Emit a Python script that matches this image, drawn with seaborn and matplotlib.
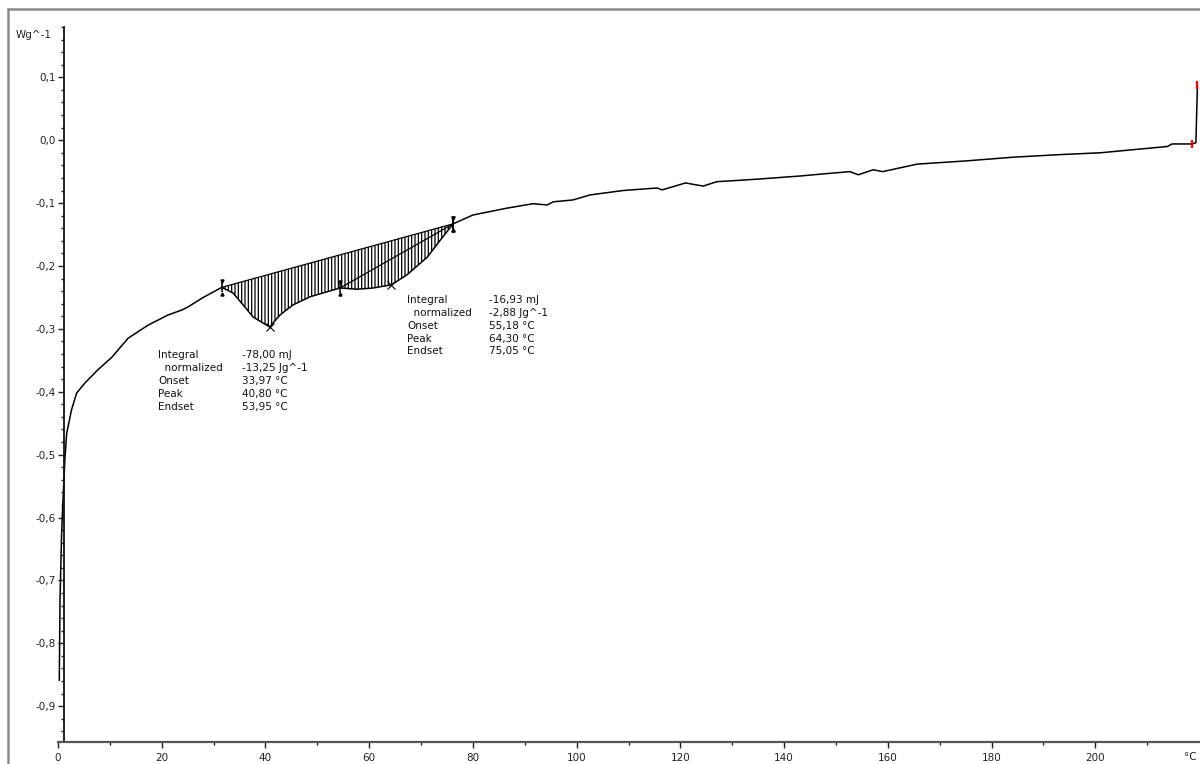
import numpy as np
import matplotlib
matplotlib.use("Agg")
import matplotlib.pyplot as plt
from matplotlib.lines import Line2D
from matplotlib.ticker import FixedLocator, FuncFormatter
import seaborn as sns

# DSC heat-flow trace (temperature in °C, heat flow in W/g)
temperature = [0.25, 0.39, 0.7, 0.96, 1.35, 1.68, 2.6, 3.6, 5.2, 7.7, 10.4, 13.5,
               17.4, 21.2, 23.9, 25.1, 27.8, 31.57, 33.75, 35.7, 37.6, 40.8, 42.8,
               45.3, 48.6, 51.9, 54.4, 57.7, 60.8, 64.3, 67.3, 71.2, 73.7, 76.2,
               80.0, 86.6, 91.6, 94.3, 95.5, 99.3, 102.6, 109.0, 115.5, 116.5,
               121.0, 124.4, 127.0, 134.8, 143.0, 147.0, 152.7, 154.3, 157.2,
               159.0, 165.7, 175.0, 184.2, 193.0, 201.0, 213.9, 214.8, 218.7,
               219.4, 219.7]
heat_flow = [-0.859, -0.73, -0.625, -0.572, -0.504, -0.466, -0.429, -0.402, -0.386,
             -0.365, -0.345, -0.315, -0.294, -0.278, -0.270, -0.265, -0.251, -0.234,
             -0.243, -0.262, -0.281, -0.297, -0.278, -0.262, -0.249, -0.241, -0.235,
             -0.237, -0.235, -0.230, -0.214, -0.186, -0.159, -0.133, -0.119, -0.108,
             -0.101, -0.103, -0.098, -0.095, -0.087, -0.080, -0.076, -0.079, -0.068,
             -0.073, -0.066, -0.062, -0.057, -0.054, -0.050, -0.055, -0.047, -0.050,
             -0.038, -0.033, -0.027, -0.023, -0.020, -0.010, -0.006, -0.006, -0.004,
             0.088]

# Integration windows (start, end) and evaluated peaks
integration_limits = [(31.57, 76.2), (54.4, 76.2)]
peak_temps = [40.8, 64.3]
end_marks_x = [218.7, 219.7]
end_marks_y = [-0.006, 0.088]

# Evaluation results
eval_labels = ["Integral", "  normalized", "Onset", "Peak", "Endset"]
eval_values_1 = ["-78,00 mJ", "-13,25 Jg^-1", "33,97 °C", "40,80 °C", "53,95 °C"]
eval_values_2 = ["-16,93 mJ", "-2,88 Jg^-1", "55,18 °C", "64,30 °C", "75,05 °C"]

x_major = list(range(0, 201, 20))
x_minor = list(range(10, 211, 20))
y_major = [round(-0.9 + 0.1 * i, 2) for i in range(11)]
y_minor = [round(-0.96 + 0.02 * i, 2) for i in range(58)]

sns.set_style("white")
plt.rcParams["font.family"] = ["DejaVu Sans"]
plt.rcParams["hatch.linewidth"] = 0.9

fig = plt.figure(figsize=(12, 7.64), dpi=100)
ax = fig.add_axes([58 / 1200, 22 / 764, 1141 / 1200, 715 / 764])

T = np.array(temperature)
H = np.array(heat_flow)

sns.lineplot(x=T, y=H, sort=False, estimator=None, color="black", lw=1.1, ax=ax)


def curve_at(t):
    return float(np.interp(t, T[5:], H[5:]))


# Hatched area between the outer baseline and the curve
t0, t1 = integration_limits[0]
mask = (T >= t0) & (T <= t1)
ts = T[mask]
base = np.interp(ts, [t0, t1], [curve_at(t0), curve_at(t1)])
ax.fill_between(ts, base, H[mask], facecolor="none", edgecolor="black",
                hatch="|||||", linewidth=0)

# Baselines and limit markers
for a, b in integration_limits:
    ya, yb = curve_at(a), curve_at(b)
    ax.plot([a, b], [ya, yb], color="black", lw=0.9)
    for t, yv in ((a, ya), (b, yb)):
        ax.plot([t], [yv], marker="|", ms=7, mew=1.1, color="black")
        ax.plot([t], [yv + 0.010], marker="v", ms=2.2, color="black")
        ax.plot([t], [yv - 0.010], marker="^", ms=2.2, color="black")

for p in peak_temps:
    ax.plot([p], [curve_at(p)], marker="x", ms=6, mew=0.8, color="black")

ax.plot(end_marks_x, end_marks_y, ls="none", marker="|", ms=6, mew=1.6,
        color="red")

ax.set_xlim(0, 220)
ax.set_ylim(-0.957, 0.18)

ax.spines["top"].set_visible(False)
ax.spines["right"].set_visible(False)
ax.spines["left"].set_position(("data", 1.2))
ax.spines["left"].set_color("#111111")
ax.spines["left"].set_linewidth(1.3)
ax.spines["bottom"].set_color("#555555")
ax.spines["bottom"].set_linewidth(1.6)

dec = FuncFormatter(lambda v, pos: f"{v:.1f}".replace(".", ",").replace("-0,0", "0,0"))
ax.xaxis.set_major_locator(FixedLocator(x_major))
ax.xaxis.set_minor_locator(FixedLocator(x_minor))
ax.yaxis.set_major_locator(FixedLocator(y_major))
ax.yaxis.set_minor_locator(FixedLocator(y_minor))
ax.yaxis.set_major_formatter(dec)
ax.xaxis.set_major_formatter(FuncFormatter(lambda v, pos: f"{v:.0f}"))

ax.tick_params(axis="both", which="major", direction="out", length=4.3,
               width=1.0, colors="#222222", labelsize=7.5, pad=1.5)
ax.tick_params(axis="both", which="minor", direction="out", length=2.5,
               width=1.0, colors="#222222")
ax.tick_params(axis="x", which="major", pad=3.5)
ax.tick_params(axis="y", left=True, which="both")
ax.tick_params(axis="x", bottom=True, which="both")

# Axis unit labels
ax.text(-1.2, 0.168, "Wg^-1", ha="right", va="center", fontsize=7.5, color="#222222")
ax.text(219.6, -0.981, "°C", ha="right", va="center", fontsize=7.5,
        color="#222222", clip_on=False)

# Evaluation blocks
for i, (lab, v1, v2) in enumerate(zip(eval_labels, eval_values_1, eval_values_2)):
    ax.text(19.3, -0.342 - 0.0205 * i, lab, fontsize=7.5, va="center", color="#111111")
    ax.text(35.5, -0.342 - 0.0205 * i, v1, fontsize=7.5, va="center", color="#111111")
    ax.text(67.3, -0.254 - 0.0205 * i, lab, fontsize=7.5, va="center", color="#111111")
    ax.text(83.1, -0.254 - 0.0205 * i, v2, fontsize=7.5, va="center", color="#111111")

# Window frame
fig.add_artist(Line2D([8 / 1200, 1.0], [1 - 9 / 764, 1 - 9 / 764],
                      color="#8a8a8a", lw=1.8, transform=fig.transFigure))
fig.add_artist(Line2D([8 / 1200, 8 / 1200], [0.0, 1 - 9 / 764],
                      color="#8a8a8a", lw=1.8, transform=fig.transFigure))

fig.savefig("out.png", dpi=100)
